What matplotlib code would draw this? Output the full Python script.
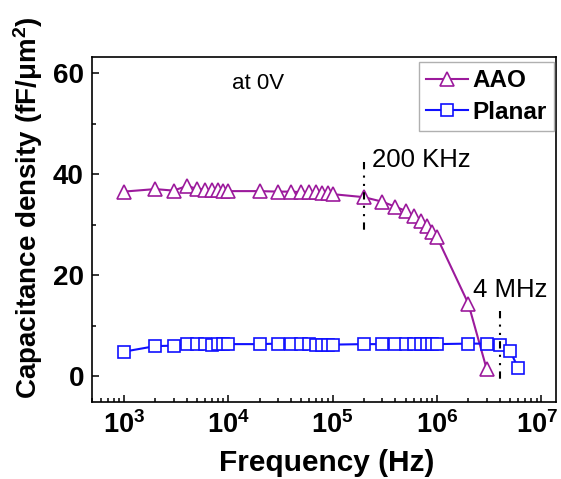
import matplotlib as mpl
mpl.use('Agg')
import matplotlib.pyplot as plt
from matplotlib.ticker import MultipleLocator, LogLocator, NullFormatter
from matplotlib.transforms import ScaledTranslation

plt.rcParams['font.family'] = ['Liberation Sans', 'DejaVu Sans']
plt.rcParams['mathtext.fontset'] = 'custom'
plt.rcParams['mathtext.rm'] = 'Liberation Sans'
plt.rcParams['mathtext.bf'] = 'Liberation Sans:bold'
plt.rcParams['mathtext.it'] = 'Liberation Sans:italic'

# 頻率 (Hz)
freq_aao = [1e3, 2e3, 3e3, 4e3, 5e3, 6e3, 7e3, 8e3, 9e3, 1e4,
            2e4, 3e4, 4e4, 5e4, 6e4, 7e4, 8e4, 9e4, 1e5,
            2e5, 3e5, 4e5, 5e5, 6e5, 7e5, 8e5, 9e5, 1e6,
            2e6, 3e6]
freq_planar = freq_aao + [4e6, 5e6, 6e6]

# 電容密度 (fF/um^2)
cap_aao = [36.6, 37.1, 36.8, 37.7, 37.2, 37.0, 36.9, 36.9, 36.8, 36.7,
           36.7, 36.6, 36.6, 36.5, 36.5, 36.5, 36.4, 36.3, 36.1,
           35.5, 34.6, 33.6, 32.8, 31.8, 30.7, 29.7, 28.7, 27.6,
           14.4, 1.4]
cap_planar = [4.9, 6.0, 6.1, 6.4, 6.4, 6.4, 6.3, 6.4, 6.4, 6.4,
              6.4, 6.5, 6.4, 6.4, 6.4, 6.2, 6.3, 6.3, 6.3,
              6.4, 6.4, 6.4, 6.4, 6.4, 6.4, 6.4, 6.4, 6.4,
              6.5, 6.5, 6.2, 5.1, 1.7]

# 標示頻率的虛線
mark_200k = [2e5, 42.5, 29.0]
mark_4m = [4e6, 12.9, -0.7]

purple = '#9c1a9c'
blue = '#1010ff'

fig = plt.figure(figsize=(5.61, 4.79), dpi=100)
ax = fig.add_axes([0.1645, 0.1614, 0.8265, 0.719])

ax.plot(freq_aao, cap_aao, '^-', color=purple, lw=1.5, ms=10, mew=1.2,
        mfc='white', mec=purple, label='AAO')
ax.plot(freq_planar, cap_planar, 's-', color=blue, lw=1.5, ms=8, mew=1.2,
        mfc='white', mec=blue, label='Planar')

for m in (mark_200k, mark_4m):
    ax.plot([m[0], m[0]], [m[1], m[2]], color='black', lw=1.5,
            dashes=(3.5, 3, 1, 3, 1, 3), zorder=5)

ax.set_xscale('log')
ax.set_xlim(500, 1.38e7)
ax.set_ylim(-5, 63.2)

ax.set_xticks([1e3, 1e4, 1e5, 1e6, 1e7])
ax.set_xticklabels([r'$\mathbf{10^{3}}$', r'$\mathbf{10^{4}}$', r'$\mathbf{10^{5}}$',
                    r'$\mathbf{10^{6}}$', r'$\mathbf{10^{7}}$'])
ax.xaxis.set_minor_locator(LogLocator(base=10, subs=range(2, 10), numticks=20))
ax.xaxis.set_minor_formatter(NullFormatter())
ax.yaxis.set_major_locator(MultipleLocator(20))
ax.yaxis.set_minor_locator(MultipleLocator(10))

ax.tick_params(which='both', direction='in', top=False, right=False, width=1.1)
ax.tick_params(which='major', length=5)
ax.tick_params(which='minor', length=3)
ax.tick_params(axis='x', labelsize=19.5, pad=7)
ax.tick_params(axis='y', labelsize=20, pad=6)
for lab in ax.get_yticklabels():
    lab.set_fontweight('bold')
# 最右邊的 10^7 稍微往左移，避免超出圖框
last = ax.get_xticklabels()[-1]
last.set_transform(last.get_transform() + ScaledTranslation(-3 / 72, 0, fig.dpi_scale_trans))
for sp in ax.spines.values():
    sp.set_linewidth(1.2)

ax.set_xlabel('Frequency (Hz)', fontsize=21.5, fontweight='bold')
ax.set_ylabel(r'Capacitance density (fF/μm$^{\mathbf{2}}$)', fontsize=20,
              fontweight='bold')
ax.xaxis.set_label_coords(0.505, -0.136)
ax.yaxis.set_label_coords(-0.102, 0.564)

ax.text(1.09e4, 57.0, 'at 0V', fontsize=16, va='baseline')
ax.text(2.38e5, 41.4, '200 KHz', fontsize=18.5, va='baseline')
ax.text(2.23e6, 15.8, '4 MHz', fontsize=18.5, va='baseline')

leg = ax.legend(loc='upper right', bbox_to_anchor=(0.996, 0.987), borderaxespad=0,
                fancybox=False, edgecolor='#b0b0b0', framealpha=1,
                prop={'size': 17.5, 'weight': 'bold'}, handlelength=1.7,
                handletextpad=0.2, labelspacing=0.35, borderpad=0.3)
leg.get_frame().set_linewidth(1.0)

plt.savefig('out.png')
plt.close()
